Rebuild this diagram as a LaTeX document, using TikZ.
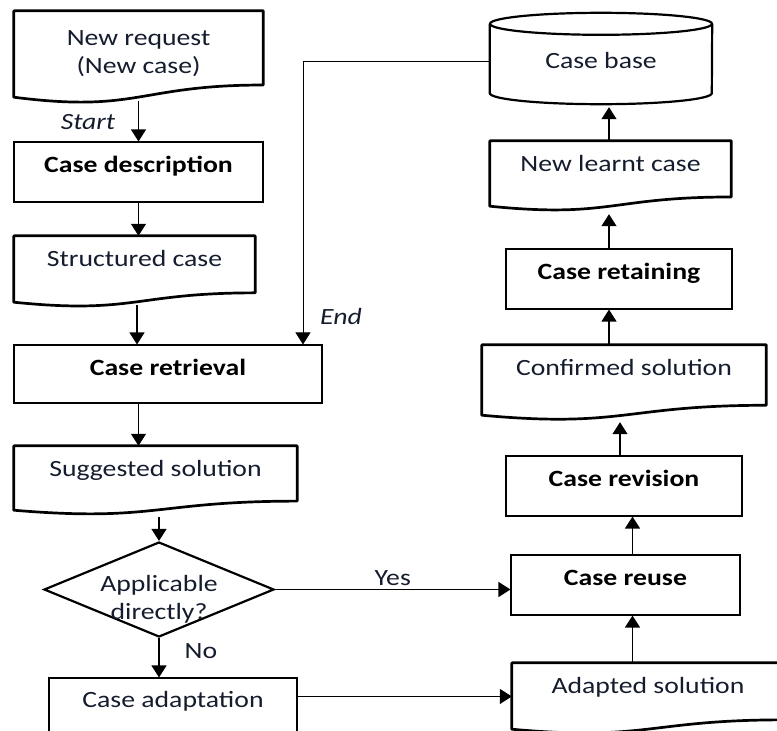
\documentclass[tikz,border=0pt]{standalone}
\usepackage{fontspec}
\setmainfont{Carlito}[FakeStretch=1.19]
\usetikzlibrary{shapes.geometric,arrows.meta,calc}
\definecolor{txt}{RGB}{20,28,45}
\newcommand\docpath[1]{\draw[docline] (#1.north west) -- (#1.north east) -- ($(#1.north east)!0.859!(#1.south east)$) .. controls ($(#1.north)!0.859!(#1.south)$) and ($(#1.north)!1.185!(#1.south)$) .. (#1.south west) -- cycle;}
\begin{document}
\begin{tikzpicture}[x=1pt,y=-1pt,
 every node/.style={font=\fontsize{23.3}{28}\selectfont, text=txt, inner sep=0pt},
 rbox/.style={draw=black, line width=1.1pt, text height=30pt},
 bf/.style={font=\fontsize{23.3}{28}\selectfont\bfseries, text=black},
 dbox/.style={text height=30pt},
 docline/.style={line width=2.7pt, line join=round},
 arr/.style={line width=1.2pt, -{Triangle[length=12pt,width=15pt]}},
 lab/.style={font=\fontsize{23.3}{28}\selectfont\itshape}]
\useasboundingbox (0,0) rectangle (777,731);

\node[align=center, minimum width=249pt, minimum height=86pt] (nr) at (138.5,54) {New request\\(New case)};
\node[rbox,bf, minimum width=249pt, minimum height=60pt, text depth=30pt] (cd) at (138.5,172) {Case description};
\node[dbox, minimum width=241pt, minimum height=66pt, text depth=36pt] (sc) at (134.5,269) {Structured case};
\node[rbox,bf, minimum width=308pt, minimum height=58pt, text depth=28pt] (cr) at (168,374) {Case retrieval};
\node[dbox, minimum width=283pt, minimum height=64pt, text depth=34pt] (ss) at (155.5,478) {Suggested solution};
\node[diamond, draw=black, line width=2.2pt, minimum width=230pt, minimum height=95pt] (dia) at (159,589.5) {};
\node[align=center] (diatxt) at ($(dia.center)+(0,9.5)$) {Applicable\\directly?};
\node[rbox, minimum width=248pt, minimum height=67pt, text height=29.5pt, text depth=37.5pt] (ca) at (173,711.5) {Case adaptation};
\node[dbox, minimum width=272pt, minimum height=66pt, text depth=36pt] (as) at (648,696) {Adapted solution};
\node[rbox,bf, minimum width=229pt, minimum height=60pt, text depth=30pt] (cu) at (625.5,585) {Case reuse};
\node[rbox,bf, minimum width=236pt, minimum height=60pt, text depth=30pt] (cv) at (624,486) {Case revision};
\node[dbox, minimum width=284pt, minimum height=70pt, text depth=40pt] (cs) at (624,380) {Confirmed solution};
\node[rbox,bf, minimum width=226pt, minimum height=60pt, text depth=30pt] (crt) at (619,279) {Case retaining};
\node[dbox, minimum width=241pt, minimum height=65pt, text depth=35pt] (nl) at (610.5,173.5) {New learnt case};
\node[minimum width=222pt, minimum height=91pt, text height=55.5pt, text depth=35.5pt] (cb) at (601,58.5) {Case base};

\docpath{nr}
\docpath{sc}
\docpath{ss}
\docpath{as}
\docpath{cs}
\docpath{nl}
\draw[line width=2.2pt] ($(cb.north)+(0,11)$) ellipse [x radius=111pt, y radius=11pt];
\draw[line width=2.2pt] ($(cb.north west)+(0,11)$) -- ($(cb.south west)+(0,-11)$) arc[start angle=180, end angle=360, x radius=111pt, y radius=11pt] -- ($(cb.north east)+(0,11)$);

\node[lab] (startl) at (88,122) {Start};
\node[lab] (endl) at (341,316) {End};

\draw[arr] ($(nr.south)+(0,4)$) -- (cd.north);
\draw[arr] (cd.south) -- (cd.south |- sc.north);
\draw[arr] ($(sc.south)+(2.5,3)$) coordinate (t1) -- (t1 |- cr.north);
\draw[arr] (cd.south |- cr.south) -- (cd.south |- ss.north);
\draw[arr] ($(ss.south -| dia.north)+(0,7)$) -- (dia.north);
\draw[arr] (dia.south) -- (dia.south |- ca.north) node[pos=0.32, anchor=west, xshift=25pt] (no) {No};
\draw[arr] (dia.east) -- (dia.east -| cu.west) node[midway, anchor=base, yshift=4pt] (yes) {Yes};
\draw[arr] ($(ca.north east)+(0,19)$) coordinate (t2) -- (t2 -| as.west);
\draw[arr] ($(cu.south)+(7,0)$) coordinate (t3) (t3 |- as.north) -- (t3);
\draw[arr] ($(cu.north)+(7,0)$) coordinate (t4) -- (t4 |- cv.south);
\draw[arr] ($(cv.north)+(-4,0)$) coordinate (t5) -- ($(t5 |- cs.south)+(0,7)$);
\draw[arr] ($(crt.north)+(-10,0)$) coordinate (t6) (t6 |- cs.north) -- (t6 |- crt.south);
\draw[arr] (t6) -- ($(t6 |- nl.south)+(0,8)$);
\draw[arr] ($(nl.north)+(-1.5,0)$) coordinate (t7) -- ($(t7 |- cb.south)+(0,3)$);
\draw[arr, line width=1pt] ($(cb.west)+(0,2.5)$) -| ($(cr.north)+(135,0)$);
\end{tikzpicture}
\end{document}
